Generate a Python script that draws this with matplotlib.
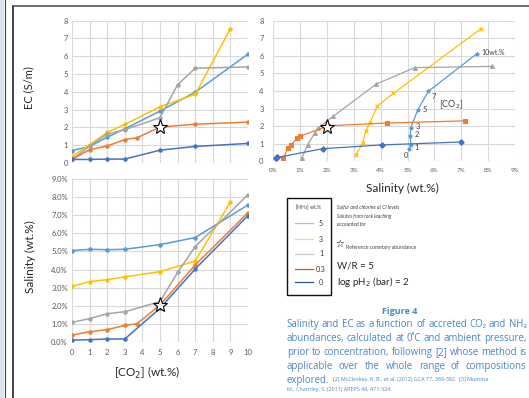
import matplotlib
matplotlib.use("Agg")
import matplotlib.pyplot as plt
from matplotlib.lines import Line2D
from matplotlib.patches import Rectangle
from matplotlib.ticker import FuncFormatter, MultipleLocator

plt.rcParams['font.family'] = ['Lato', 'DejaVu Sans']

W, H = 529, 398

# [CO2] (wt.%) for each NH3 series
co2_0 = [0, 1, 2, 3, 5, 7, 10]
co2_03 = [0, 1, 2, 3, 3.7, 5, 7, 10]
co2_1 = [0, 1, 2, 3, 5, 6, 7, 10]
co2_3 = [0, 1, 2, 3, 5, 7, 9]
co2_5 = [0, 1, 2, 3, 5, 7, 10]

# EC (S/m)
ec_0 = [0.2, 0.2, 0.22, 0.22, 0.72, 0.93, 1.1]
ec_03 = [0.2, 0.75, 0.95, 1.32, 1.42, 2.02, 2.18, 2.3]
ec_1 = [0.2, 0.95, 1.62, 1.87, 2.55, 4.4, 5.33, 5.4]
ec_3 = [0.36, 1.03, 1.72, 2.17, 3.16, 3.86, 7.55]
ec_5 = [0.7, 0.93, 1.45, 1.92, 2.92, 3.98, 6.12]

# Salinity (wt.%)
sal_0 = [0.09, 0.11, 0.15, 0.15, 1.85, 4.03, 6.99]
sal_03 = [0.37, 0.55, 0.67, 0.9, 1.0, 2.03, 4.25, 7.15]
sal_1 = [1.07, 1.28, 1.55, 1.66, 2.22, 3.84, 5.27, 8.15]
sal_3 = [3.07, 3.33, 3.44, 3.59, 3.88, 4.47, 7.74]
sal_5 = [5.05, 5.12, 5.1, 5.12, 5.38, 5.77, 7.58]

# reference cometary abundance
star_co2, star_ec, star_sal = 5, 2.0, 2.05

nh3_labels = ['5', '3', '1', '0.3', '0']
colors = ['#5b9bd5', '#ffc000', '#a5a5a5', '#ed7d31', '#4472c4']
legend_colors = ['#9dc3e6', '#ffd966', '#c9c9c9', '#c55a11', '#2f5597']
series = [
    (co2_5, ec_5, sal_5, '*'),
    (co2_3, ec_3, sal_3, 'x'),
    (co2_1, ec_1, sal_1, '^'),
    (co2_03, ec_03, sal_03, 's'),
    (co2_0, ec_0, sal_0, 'D'),
]

fig = plt.figure(figsize=(W / 100, H / 100), dpi=100)


def px_axes(l, t, r, b):
    return fig.add_axes([l / W, 1 - b / H, (r - l) / W, (b - t) / H])


def excel_style(ax):
    for s in ax.spines.values():
        s.set_visible(False)
    ax.grid(True, color='#d9d9d9', lw=0.8)
    ax.set_axisbelow(True)
    ax.tick_params(length=0, labelsize=5.5, labelcolor='#595959', pad=3)


def fx(px):
    return px / W


def fy(py):
    return 1 - py / H


# page decoration
fig.patches.append(Rectangle((0, 0), fx(4), 1, transform=fig.transFigure,
                             facecolor='#dae3f3', edgecolor='none'))
fig.add_artist(Line2D([fx(4.5), fx(4.5)], [0, 1], color='#444444', lw=0.8))
fig.add_artist(Line2D([fx(13), fx(13)], [0, fy(6)], color='#222222', lw=1.2))
fig.add_artist(Line2D([fx(13), 1], [fy(6), fy(6)], color='#555555', lw=1.2))

# EC vs CO2
ax1 = px_axes(72, 20.7, 248, 163)
excel_style(ax1)
for (c, e, s, m), col in zip(series, colors):
    ax1.plot(c, e, color=col, lw=1.1, marker='o', ms=2.2)
ax1.plot(star_co2, star_ec, marker='*', ms=11, mfc='white', mec='black', mew=0.8)
ax1.set_xlim(0, 10)
ax1.set_ylim(0, 8)
ax1.xaxis.set_major_locator(MultipleLocator(1))
ax1.yaxis.set_major_locator(MultipleLocator(1))
ax1.set_xticklabels([])
fig.text(fx(29), fy(88), 'EC (S/m)', rotation=90, ha='center', va='center',
         fontsize=8, color='#262626')

# Salinity vs CO2
ax2 = px_axes(72, 179.3, 248, 341.7)
excel_style(ax2)
for (c, e, s, m), col in zip(series, colors):
    ax2.plot(c, s, color=col, lw=1.1, marker='o', ms=2.2)
ax2.plot(star_co2, star_sal, marker='*', ms=11, mfc='white', mec='black', mew=0.8)
ax2.set_xlim(0, 10)
ax2.set_ylim(0, 9)
ax2.xaxis.set_major_locator(MultipleLocator(1))
ax2.yaxis.set_major_locator(MultipleLocator(1))
ax2.yaxis.set_major_formatter(FuncFormatter(lambda v, p: f'{v:.1f}%'))
ax2.tick_params(axis='x', pad=5)
fig.text(fx(30), fy(257), 'Salinity (wt.%)', rotation=90, ha='center', va='center',
         fontsize=8.5, color='#262626')
fig.text(fx(147), fy(373), '[CO$_2$] (wt.%)', ha='center', va='center',
         fontsize=8.5, color='#262626')

# EC vs salinity
ax3 = px_axes(273.3, 20.7, 515, 161.3)
excel_style(ax3)
for (c, e, s, m), col in zip(series, colors):
    ax3.plot(s, e, color=col, lw=0.9, marker=m, ms=2.8, mew=0.8)
ax3.plot(2.0, 1.95, marker='*', ms=11, mfc='white', mec='black', mew=0.8)
ax3.set_xlim(0, 9)
ax3.set_ylim(0, 8)
ax3.xaxis.set_major_locator(MultipleLocator(1))
ax3.yaxis.set_major_locator(MultipleLocator(1))
ax3.xaxis.set_major_formatter(FuncFormatter(lambda v, p: f'{v:.0f}%'))
ax3.tick_params(axis='x', labelsize=4.5, pad=5)
ax3.tick_params(axis='y', pad=7)
fig.text(fx(402), fy(188), 'Salinity (wt.%)', ha='center', va='center',
         fontsize=8.5, color='#262626')

offsets = [(-3, -7), (6, -3), (7, 1), (7, 1), (7, 0), (6, -5)]
for c, s, e, off in zip(co2_5, sal_5, ec_5, offsets):
    ax3.annotate(f'{c:g}', (s, e), xytext=off, textcoords='offset pixels',
                 ha='center', va='center', fontsize=5.5, color='#404040')
ax3.annotate(f'{co2_5[-1]:g}wt.%', (sal_5[-1], ec_5[-1]), xytext=(5, 1),
             textcoords='offset pixels', ha='left', va='center',
             fontsize=5, color='#404040')
ax3.text(6.62, 3.2, '[CO$_2$]', ha='center', va='center', fontsize=6.5, color='#404040')

# legend box
fig.patches.append(Rectangle((fx(286.7), fy(295)), fx(44), 96.7 / H,
                             transform=fig.transFigure, facecolor='white',
                             edgecolor='#111111', lw=1.0))
fig.text(fx(309), fy(207), '[NH$_3$] wt.%', ha='center', va='center',
         fontsize=3.6, color='#333333')
leg_y = [223.3, 239, 253.7, 269, 282.3]
for lab, col, yy in zip(nh3_labels, legend_colors, leg_y):
    fig.add_artist(Line2D([fx(295), fx(313)], [fy(yy), fy(yy)], color=col, lw=0.9))
    fig.text(fx(321), fy(yy), lab, ha='center', va='center', fontsize=5, color='#333333')

for txt, yy in zip(['Sulfur and chlorine at CI levels', 'Solutes from rock leaching',
                    'accounted for'], [207.3, 216, 224.3]):
    fig.text(fx(337), fy(yy), txt, ha='left', va='center', fontsize=3.6,
             style='italic', color='#404040')
fig.text(fx(340), fy(244), '\u2606', ha='center', va='center', fontsize=7,
         fontweight='bold', family=['DejaVu Sans'], color='black')
fig.text(fx(346), fy(248), 'Reference cometary abundance', ha='left', va='center',
         fontsize=3.6, color='#404040')
fig.text(fx(337), fy(266), 'W/R = 5', ha='left', va='center', fontsize=7, color='#262626')
fig.text(fx(337), fy(282), 'log pH$_2$ (bar) = 2', ha='left', va='center',
         fontsize=7, color='#262626')

# caption
cap_col = '#4a86c6'
cap_font = ['Open Sans', 'DejaVu Sans']
fig.text(fx(400), fy(312), 'Figure 4', ha='center', va='center', fontsize=6.5,
         fontweight='bold', color=cap_col, family=cap_font)

renderer = fig.canvas.get_renderer()


def justified(line, yy, x0=286.7, x1=526.5, size=6.9):
    words = line.split(' ')
    items = [fig.text(0, fy(yy), w, ha='left', va='center', fontsize=size,
                      color=cap_col, family=cap_font) for w in words]
    widths = [t.get_window_extent(renderer).width for t in items]
    gap = (x1 - x0 - sum(widths)) / (len(words) - 1)
    x = x0
    for t, wd in zip(items, widths):
        t.set_x(fx(x))
        x += wd + gap


justified('Salinity and EC as a function of accreted CO\u2082 and NH\u2083', 324.5)
justified('abundances, calculated at 0\u02daC and ambient pressure,', 338.3)
justified('prior to concentration, following [2] whose method is', 352.3)
justified('applicable over the whole range of compositions', 366.3)

t = fig.text(fx(286.7), fy(380), 'explored.', ha='left', va='center', fontsize=6.9,
             color=cap_col, family=cap_font)
wx = t.get_window_extent(renderer).width
fig.text(fx(286.7 + wx + 4), fy(380),
         '[2] McCleskey, R. B., et al. (2012) GCA 77, 369-382.  [3] Mumma',
         ha='left', va='center', fontsize=3.9, color=cap_col, family=cap_font)
fig.text(fx(286.7), fy(389.5), 'M., Charnley, S. (2011) AREPS 49, 471-524.',
         ha='left', va='center', fontsize=3.9, color=cap_col, family=cap_font)

fig.savefig('out.png', dpi=100)
